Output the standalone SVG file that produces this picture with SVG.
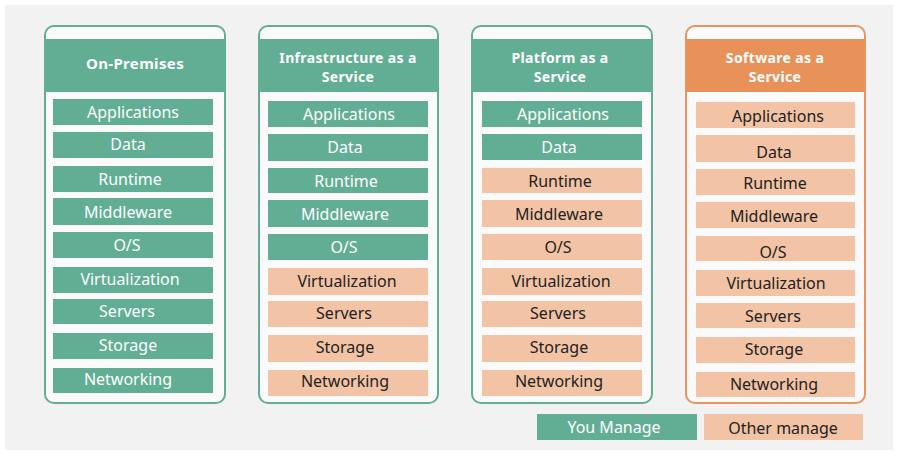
<svg xmlns="http://www.w3.org/2000/svg" width="897" height="453" viewBox="0 0 897 453">
<style>
.bg{fill:#f2f2f2}
.col{fill:#fafafa;stroke-width:2}
.cg{stroke:#63ad94}
.co{stroke:#e8965f}
.hg{fill:#62ae94}
.ho{fill:#e8925a}
.g{fill:#62ae94}
.p{fill:#f2c4a5}
.ht{font-family:"Noto Sans","Open Sans",sans-serif;font-weight:bold;font-size:14px;letter-spacing:0.35px;fill:#ffffff;text-anchor:middle}
.t{font-family:"Noto Sans","Open Sans",sans-serif;font-size:16px;text-anchor:middle;dominant-baseline:central}
.tw{fill:#ffffff}
.td{fill:#222222}
</style>
<rect class="bg" x="5" y="5" width="888" height="445"/>
<g id="on-premises">
<rect class="col cg" x="45" y="26" width="180" height="377" rx="9"/>
<rect class="hg" x="46" y="39" width="178" height="53"/>
<text class="ht" x="135" y="69" style="font-size:15px">On-Premises</text>
<rect class="g" x="53" y="99" width="160" height="26"/><text class="t tw" x="133" y="112">Applications</text>
<rect class="g" x="53" y="132" width="160" height="26"/><text class="t tw" x="128" y="144">Data</text>
<rect class="g" x="53" y="166" width="160" height="26"/><text class="t tw" x="130" y="179">Runtime</text>
<rect class="g" x="53" y="198" width="160" height="27"/><text class="t tw" x="128" y="212">Middleware</text>
<rect class="g" x="53" y="232" width="160" height="26"/><text class="t tw" x="127" y="245">O/S</text>
<rect class="g" x="53" y="267" width="160" height="26"/><text class="t tw" x="130" y="279">Virtualization</text>
<rect class="g" x="53" y="299" width="160" height="25"/><text class="t tw" x="127" y="311">Servers</text>
<rect class="g" x="53" y="333" width="160" height="26"/><text class="t tw" x="128" y="345">Storage</text>
<rect class="g" x="53" y="368" width="160" height="25"/><text class="t tw" x="128" y="379">Networking</text>
</g>
<g id="iaas">
<rect class="col cg" x="259" y="26" width="179" height="377" rx="9"/>
<rect class="hg" x="260" y="39" width="177" height="53"/>
<text class="ht" x="348" y="63">Infrastructure as a</text>
<text class="ht" x="348" y="82">Service</text>
<rect class="g" x="268" y="101" width="160" height="26"/><text class="t tw" x="349" y="114">Applications</text>
<rect class="g" x="268" y="134" width="160" height="27"/><text class="t tw" x="345" y="147">Data</text>
<rect class="g" x="268" y="168" width="160" height="25"/><text class="t tw" x="346" y="181">Runtime</text>
<rect class="g" x="268" y="200" width="160" height="27"/><text class="t tw" x="345" y="214">Middleware</text>
<rect class="g" x="268" y="234" width="160" height="26"/><text class="t tw" x="344" y="247">O/S</text>
<rect class="p" x="268" y="268" width="160" height="27"/><text class="t td" x="347" y="281">Virtualization</text>
<rect class="p" x="268" y="301" width="160" height="26"/><text class="t td" x="344" y="313">Servers</text>
<rect class="p" x="268" y="335" width="160" height="27"/><text class="t td" x="345" y="347">Storage</text>
<rect class="p" x="268" y="370" width="160" height="26"/><text class="t td" x="345" y="381">Networking</text>
</g>
<g id="paas">
<rect class="col cg" x="472" y="26" width="180" height="377" rx="9"/>
<rect class="hg" x="473" y="39" width="178" height="53"/>
<text class="ht" x="560" y="63">Platform as a</text>
<text class="ht" x="560" y="82">Service</text>
<rect class="g" x="482" y="101" width="160" height="26"/><text class="t tw" x="563" y="114">Applications</text>
<rect class="g" x="482" y="134" width="160" height="26"/><text class="t tw" x="559" y="147">Data</text>
<rect class="p" x="482" y="168" width="160" height="25"/><text class="t td" x="560" y="181">Runtime</text>
<rect class="p" x="482" y="200" width="160" height="27"/><text class="t td" x="559" y="214">Middleware</text>
<rect class="p" x="482" y="234" width="160" height="26"/><text class="t td" x="558" y="247">O/S</text>
<rect class="p" x="482" y="268" width="160" height="27"/><text class="t td" x="561" y="281">Virtualization</text>
<rect class="p" x="482" y="301" width="160" height="26"/><text class="t td" x="558" y="313">Servers</text>
<rect class="p" x="482" y="335" width="160" height="27"/><text class="t td" x="559" y="347">Storage</text>
<rect class="p" x="482" y="370" width="160" height="26"/><text class="t td" x="559" y="381">Networking</text>
</g>
<g id="saas">
<rect class="col co" x="686" y="26" width="179" height="377" rx="9"/>
<rect class="ho" x="687" y="39" width="177" height="53"/>
<text class="ht" x="775" y="63">Software as a</text>
<text class="ht" x="775" y="82">Service</text>
<rect class="p" x="696" y="102" width="159" height="26"/><text class="t td" x="778" y="116">Applications</text>
<rect class="p" x="696" y="135" width="159" height="27"/><text class="t td" x="774" y="152">Data</text>
<rect class="p" x="696" y="169" width="159" height="26"/><text class="t td" x="775" y="183">Runtime</text>
<rect class="p" x="696" y="202" width="159" height="26"/><text class="t td" x="774" y="216">Middleware</text>
<rect class="p" x="696" y="236" width="159" height="25"/><text class="t td" x="773" y="252">O/S</text>
<rect class="p" x="696" y="270" width="159" height="26"/><text class="t td" x="776" y="283">Virtualization</text>
<rect class="p" x="696" y="303" width="159" height="25"/><text class="t td" x="773" y="316">Servers</text>
<rect class="p" x="696" y="337" width="159" height="26"/><text class="t td" x="774" y="349">Storage</text>
<rect class="p" x="696" y="372" width="159" height="25"/><text class="t td" x="774" y="384">Networking</text>
</g>
<g id="legend-you">
<rect class="g" x="537" y="414" width="160" height="26"/><text class="t tw" x="614" y="427">You Manage</text>
</g>
<g id="legend-other">
<rect class="p" x="704" y="414" width="159" height="26"/><text class="t td" x="783" y="428">Other manage</text>
</g>
<g id="connectors"/>
</svg>
